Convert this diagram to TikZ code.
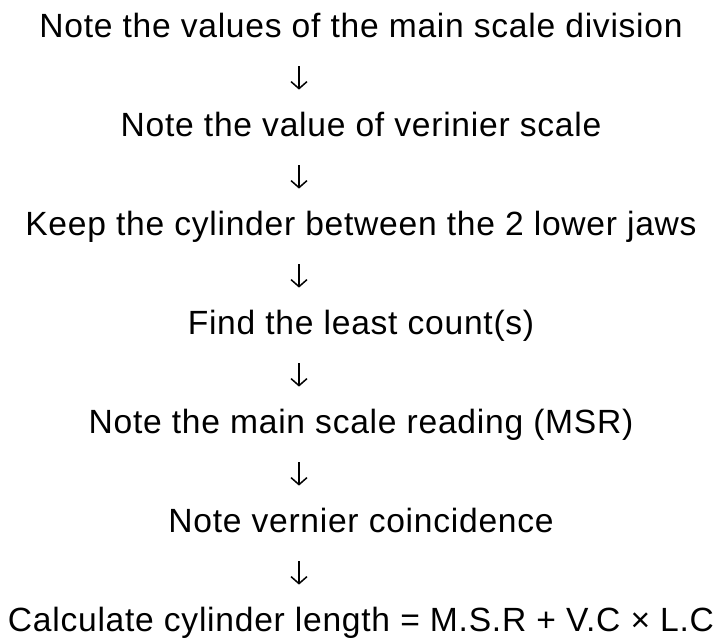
\documentclass[tikz,border=0pt]{standalone}
\usepackage{fontspec}
\setmainfont[LetterSpace=2.2]{Liberation Sans}
\usetikzlibrary{positioning,arrows.meta}

\begin{document}
\begin{tikzpicture}[x=0.5pt, y=-0.5pt, node distance=49.5pt,
  stage/.style={inner sep=0pt, text height=12pt, text depth=4pt, font=\fontsize{16.8}{20}\selectfont},
  flow/.style={-{Straight Barb[length=3.5pt,width=8pt]}, line width=0.75pt, shorten <=10.5pt, shorten >=11pt}]
\useasboundingbox (0,0) rectangle (722,638);

% Steps
\node[stage] (divn) at (361,29) {Note the values of the main scale division};
\node[stage, below of=divn] (vern) {Note the value of verinier scale};
\node[stage, below of=vern] (jaws) {Keep the cylinder between the 2 lower jaws};
\node[stage, below of=jaws] (lc) {Find the least count(s)};
\node[stage, below of=lc] (msr) {Note the main scale reading (MSR)};
\node[stage, below of=msr] (vc) {Note vernier coincidence};
\node[stage, below of=vc] (len) {Calculate cylinder length = M.S.R + V.C × L.C};

% Arrows
\foreach \a/\b in {divn/vern, vern/jaws, jaws/lc, lc/msr, msr/vc, vc/len}
  \draw[flow] ([xshift=-31pt]\a.south) -- ([xshift=-31pt]\b.north);

\end{tikzpicture}
\end{document}
